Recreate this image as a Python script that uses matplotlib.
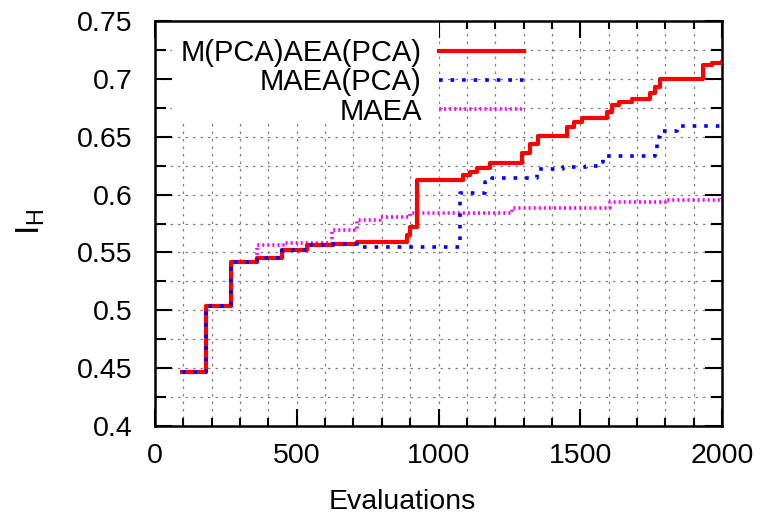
import numpy as np
import matplotlib
matplotlib.use('agg')
import matplotlib.pyplot as plt
from matplotlib.patches import Rectangle

plt.rcParams['font.family'] = ['Liberation Sans', 'DejaVu Sans']
plt.rcParams['mathtext.default'] = 'regular'

# M(PCA)AEA(PCA)
red_x = [95, 180, 268, 359, 447, 535, 628, 711, 888, 900, 925, 1087, 1111, 1135, 1182,
         1293, 1323, 1352, 1452, 1478, 1507, 1593, 1611, 1637, 1681, 1746, 1764, 1781,
         1934, 1965, 2000]
red_y = [0.447, 0.504, 0.542, 0.545, 0.552, 0.556, 0.557, 0.559, 0.565, 0.572, 0.6125,
         0.6165, 0.6195, 0.6227, 0.627, 0.636, 0.644, 0.651, 0.6586, 0.663, 0.666, 0.6717,
         0.6775, 0.680, 0.683, 0.6875, 0.693, 0.700, 0.712, 0.714, 0.715]

# MAEA(PCA)
blue_x = [95, 180, 268, 359, 447, 535, 628, 711, 1076, 1164, 1188, 1346, 1440, 1522,
          1570, 1581, 1764, 1770, 1781, 1840, 2000]
blue_y = [0.447, 0.504, 0.542, 0.545, 0.552, 0.556, 0.557, 0.555, 0.601, 0.611, 0.614,
          0.622, 0.6235, 0.625, 0.628, 0.633, 0.6385, 0.650, 0.655, 0.659, 0.661]

# MAEA
mag_x = [95, 180, 268, 359, 451, 623, 711, 794, 899, 1258, 1605, 1800, 2000]
mag_y = [0.447, 0.504, 0.542, 0.556, 0.558, 0.569, 0.578, 0.581, 0.584, 0.588, 0.5935,
         0.595, 0.597]

fig = plt.figure(figsize=(7.64, 5.14), dpi=100)
ax = fig.add_axes([155/764, 1-426/514, 567/764, 405/514])

ax.plot(red_x, red_y, drawstyle='steps-post', color='#ff0000', lw=3.0,
        label='M(PCA)AEA(PCA)', zorder=3)
ax.plot(blue_x, blue_y, drawstyle='steps-post', color='#0000ff', lw=2.6,
        linestyle=(0, (1.0, 2.2)), label='MAEA(PCA)', zorder=4)
ax.plot(mag_x, mag_y, drawstyle='steps-post', color='#ff00ff', lw=2.6,
        linestyle=(0, (0.55, 0.85)), label='MAEA', zorder=2)

ax.set_xlim(0, 2000)
ax.set_ylim(0.4, 0.75)
ax.set_xticks(np.arange(0, 2001, 500))
ax.set_xticks(np.arange(0, 2001, 100), minor=True)
ax.set_yticks(np.arange(0.4, 0.751, 0.05))
ax.set_yticks(np.arange(0.4, 0.751, 0.025), minor=True)
ax.set_yticklabels(['0.4', '0.45', '0.5', '0.55', '0.6', '0.65', '0.7', '0.75'])

ax.tick_params(which='both', direction='in', top=True, right=True, width=1.5,
               labelsize=20.5)
ax.tick_params(axis='x', which='major', length=12, pad=12)
ax.tick_params(axis='x', which='minor', length=6)
ax.tick_params(axis='y', which='major', length=12, pad=16)
ax.tick_params(axis='y', which='minor', length=8)
for s in ax.spines.values():
    s.set_linewidth(1.8)

ax.set_axisbelow(True)
ax.grid(which='both', color='#808080', lw=0.9, linestyle=(0, (2, 4)))

# white box behind the key text, covers the grid
ax.add_patch(Rectangle((0.03, 0.75), 0.47, 0.25, transform=ax.transAxes,
                       facecolor='white', edgecolor='none', zorder=1))

ax.set_xlabel('Evaluations', fontsize=20.5)
ax.xaxis.set_label_coords(0.436, -0.155)
ax.set_ylabel('$I_H$', fontsize=24, rotation=90)
ax.yaxis.set_label_coords(-0.19, 0.504)

ax.legend(loc='upper right', bbox_to_anchor=(0.671, 0.985), frameon=False,
          markerfirst=False, fontsize=21, handlelength=2.9, handletextpad=0.6,
          labelspacing=0.05, borderaxespad=0.0)

plt.savefig('out.png', dpi=100)
